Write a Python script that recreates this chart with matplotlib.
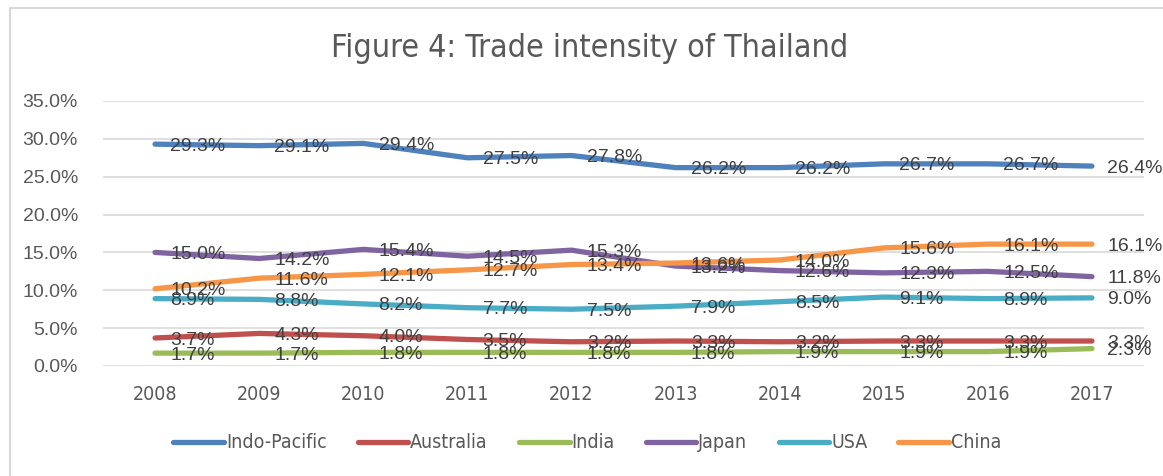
import numpy as np
import matplotlib.pyplot as plt
from matplotlib.ticker import PercentFormatter
from matplotlib.lines import Line2D

years = ["2008", "2009", "2010", "2011", "2012", "2013", "2014", "2015", "2016", "2017"]

indo_pacific = [29.3, 29.1, 29.4, 27.5, 27.8, 26.2, 26.2, 26.7, 26.7, 26.4]
australia = [3.7, 4.3, 4.0, 3.5, 3.2, 3.3, 3.2, 3.3, 3.3, 3.3]
india = [1.7, 1.7, 1.8, 1.8, 1.8, 1.8, 1.9, 1.9, 1.9, 2.3]
japan = [15.0, 14.2, 15.4, 14.5, 15.3, 13.2, 12.6, 12.3, 12.5, 11.8]
usa = [8.9, 8.8, 8.2, 7.7, 7.5, 7.9, 8.5, 9.1, 8.9, 9.0]
china = [10.2, 11.6, 12.1, 12.7, 13.4, 13.6, 14.0, 15.6, 16.1, 16.1]

series = [
    ("Indo-Pacific", indo_pacific, "#4F81BD"),
    ("Australia", australia, "#C0504D"),
    ("India", india, "#9BBB59"),
    ("Japan", japan, "#8064A2"),
    ("USA", usa, "#4BACC6"),
    ("China", china, "#F79646"),
]

regular = ["Liberation Sans", "DejaVu Sans"]

fig = plt.figure(figsize=(11.63, 4.76), dpi=100)
ax = fig.add_axes([103 / 1163, 110 / 476, 1041 / 1163, 265 / 476])

x = np.arange(len(years))
for name, vals, col in series:
    ax.plot(x, vals, color=col, lw=3.8, solid_capstyle="round",
            solid_joinstyle="round", label=name, zorder=3)

# etiquetas de datos a la derecha de cada punto
for name, vals, col in series:
    for xi, v in zip(x, vals):
        ax.annotate(f"{v:.1f}%", (xi, v), xytext=(11, -1.5),
                    textcoords="offset points", ha="left", va="center",
                    fontsize=14, family=regular, color="#404040", zorder=5,
                    annotation_clip=False)

ax.set_xlim(-0.5, 9.5)
ax.set_ylim(0, 35)
ax.set_yticks(np.arange(0, 36, 5))
ax.yaxis.set_major_formatter(PercentFormatter(decimals=1))
ax.set_xticks(x)
ax.set_xticklabels(years)
for s in ax.spines.values():
    s.set_visible(False)
ax.grid(axis="y", color="#D9D9D9", lw=1.2, zorder=0)
ax.tick_params(length=0, colors="#595959")
ax.tick_params(axis="x", pad=14)
ax.tick_params(axis="y", pad=18)
for t in ax.get_yticklabels():
    t.set_family(regular)
    t.set_fontsize(14)
for t in ax.get_xticklabels():
    t.set_family("DejaVu Sans")
    t.set_stretch("condensed")
    t.set_fontsize(14)

fig.text(590 / 1163, 1 - 48 / 476, "Figure 4: Trade intensity of Thailand",
         ha="center", va="center", fontsize=23, family="DejaVu Sans",
         stretch="condensed", color="#595959")

fig.legend(loc="center", bbox_to_anchor=(0.505, 1 - 443 / 476), ncol=6,
           frameon=False, handlelength=2.6, columnspacing=1.6, handletextpad=0.1,
           prop={"family": "DejaVu Sans", "stretch": "condensed", "size": 14},
           labelcolor="#595959")

# borde del gráfico
fig.add_artist(Line2D([10 / 1163, 10 / 1163, 1], [0, 1 - 8 / 476, 1 - 8 / 476],
                      transform=fig.transFigure, color="#D9D9D9", lw=1.5))

fig.savefig("out.png", dpi=100)
